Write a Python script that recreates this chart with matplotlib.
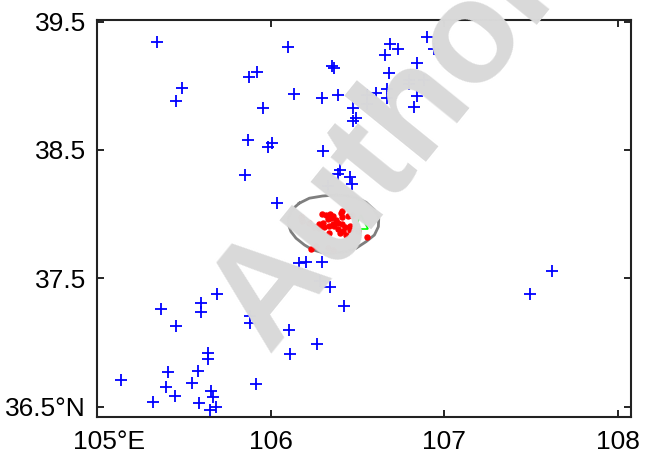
import numpy as np
import matplotlib
matplotlib.use("Agg")
import matplotlib.pyplot as plt
import matplotlib.transforms as mtransforms

plt.rcParams['font.family'] = ['Liberation Sans', 'DejaVu Sans']

# stations (blue crosses), lon / lat
station_lon = [105.346, 106.097, 106.351, 106.365, 105.490, 105.454, 105.877, 105.922,
               106.134, 106.294, 106.390, 105.958, 106.477, 106.492, 106.475, 105.870,
               106.010, 105.986, 106.302, 106.402, 106.388, 106.455, 106.469, 105.849,
               106.332, 106.038, 106.899, 106.943, 106.689, 106.733, 106.660, 106.841,
               106.681, 106.797, 106.797, 106.886, 106.556, 106.608, 106.673, 106.673,
               106.843, 106.828, 106.556, 107.621, 107.498, 106.163, 106.205, 106.294,
               106.286, 106.340, 106.425, 105.689, 105.600, 105.600, 105.369, 105.455,
               105.883, 105.883, 106.107, 106.265, 106.113, 105.639, 105.639, 105.408,
               105.581, 105.134, 105.396, 105.548, 105.916, 105.446, 105.658, 105.666,
               105.323, 105.587, 105.650, 105.685]
station_lat = [39.339, 39.300, 39.155, 39.141, 38.986, 38.884, 39.071, 39.110,
               38.936, 38.908, 38.926, 38.827, 38.825, 38.752, 38.728, 38.578,
               38.555, 38.521, 38.495, 38.346, 38.313, 38.287, 38.237, 38.305,
               38.217, 38.087, 39.378, 39.290, 39.329, 39.290, 39.238, 39.180,
               39.100, 39.046, 39.014, 39.046, 38.926, 38.944, 38.978, 38.905,
               38.919, 38.837, 38.856, 37.557, 37.380, 37.617, 37.627, 37.627,
               37.479, 37.430, 37.282, 37.380, 37.307, 37.240, 37.263, 37.126,
               37.204, 37.152, 37.095, 36.988, 36.910, 36.920, 36.869, 36.770,
               36.780, 36.710, 36.653, 36.684, 36.674, 36.583, 36.622, 36.573,
               36.536, 36.528, 36.476, 36.495]

# events (red dots)
event_lon = [106.176, 106.178, 106.221, 106.294, 106.319, 106.342, 106.357, 106.328,
             106.348, 106.412, 106.408, 106.413, 106.446, 106.467, 106.280, 106.303,
             106.309, 106.338, 106.357, 106.367, 106.390, 106.412, 106.388, 106.338,
             106.419, 106.435, 106.455, 106.460, 106.429, 106.506, 106.554, 106.402,
             106.232, 106.263, 106.331, 106.360, 106.251, 106.279, 106.377]
event_lat = [37.980, 37.949, 37.933, 38.001, 37.993, 37.999, 37.986, 37.965,
             37.972, 38.027, 38.007, 37.978, 37.986, 37.991, 37.921, 37.929,
             37.898, 37.910, 37.921, 37.908, 37.933, 37.923, 37.882, 37.855,
             37.871, 37.837, 37.876, 37.908, 37.898, 37.871, 37.824, 37.855,
             37.726, 37.752, 37.736, 37.721, 37.902, 37.890, 37.954]

# reference point (green triangle)
ref_lon = [106.521]
ref_lat = [37.941]

# closed gray contour
contour_lon = [106.165, 106.223, 106.299, 106.377, 106.435, 106.492, 106.550, 106.598,
               106.623, 106.621, 106.598, 106.550, 106.492, 106.435, 106.357, 106.299,
               106.242, 106.194, 106.146, 106.117, 106.103, 106.101, 106.117, 106.142]
contour_lat = [38.085, 38.124, 38.141, 38.149, 38.144, 38.128, 38.092, 38.032,
               37.968, 37.902, 37.837, 37.785, 37.734, 37.707, 37.695, 37.700,
               37.721, 37.760, 37.812, 37.863, 37.915, 37.968, 38.019, 38.058]

xticks = [105, 106, 107, 108]
xlabels = ['105°E', '106', '107', '108']
yticks = [36.5, 37.5, 38.5, 39.5]
ylabels = ['36.5°N', '37.5', '38.5', '39.5']

fig = plt.figure(figsize=(6.5, 4.55), dpi=100)
ax = fig.add_axes([0.1497, 0.0829, 0.8206, 0.8731])

#watermark behind the data
fig.text(0.597, 0.68, 'Author', rotation=51, fontsize=104, fontweight='bold',
         color='#d9d9d9', ha='center', va='center', zorder=0)
ax.patch.set_alpha(0)

cl = contour_lon + contour_lon[:1]
ct = contour_lat + contour_lat[:1]
ax.plot(cl, ct, color='#7f7f7f', lw=2, zorder=2)
ax.plot(station_lon, station_lat, '+', color='blue', ms=8, mew=1.3, zorder=3)
ax.plot(event_lon, event_lat, 'o', color='red', ms=3.6, mec='red', zorder=4)
ax.plot(ref_lon, ref_lat, '^', mfc='none', mec='#00ff00', ms=10, mew=1.2, zorder=5)

ax.set_xlim(105, 108.076)
ax.set_ylim(36.416, 39.513)
ax.set_xticks(xticks)
ax.set_xticklabels(xlabels)
ax.set_yticks(yticks)
ax.set_yticklabels(ylabels)
ax.tick_params(direction='in', length=5, width=1.2, top=True, right=True,
               labelsize=19, pad=8)
ax.tick_params(axis='x', pad=9)
for s in ax.spines.values():
    s.set_linewidth(1.5)
    s.set_color('#222222')

# first lon label sits a bit to the right of its tick
lab = ax.get_xticklabels()[0]
lab.set_transform(lab.get_transform() + mtransforms.ScaledTranslation(12 / 100, 0, fig.dpi_scale_trans))

fig.savefig('out.png', dpi=100)
